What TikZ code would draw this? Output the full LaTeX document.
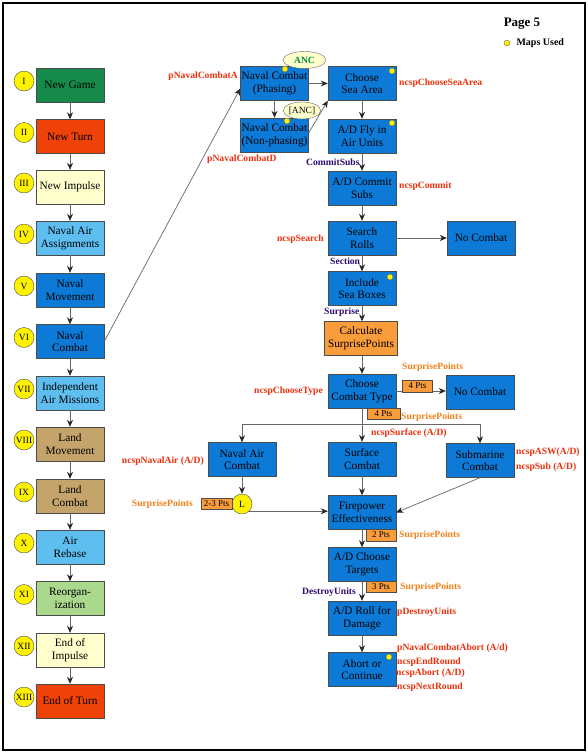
\documentclass[tikz,border=0pt]{standalone}
\usepackage{fontspec}
\setmainfont{Liberation Serif}
\usetikzlibrary{shapes.geometric,arrows.meta}

\definecolor{dgreen}{RGB}{22,138,74}
\definecolor{redor}{RGB}{238,66,8}
\definecolor{lyellow}{RGB}{255,255,206}
\definecolor{lblue}{RGB}{94,190,240}
\definecolor{mblue}{RGB}{12,122,214}
\definecolor{landbrown}{RGB}{196,164,106}
\definecolor{lgreen}{RGB}{170,216,140}
\definecolor{surp}{RGB}{248,156,60}
\definecolor{labred}{RGB}{238,48,12}
\definecolor{laborange}{RGB}{244,128,24}
\definecolor{labpurple}{RGB}{44,12,112}
\definecolor{ancgreen}{RGB}{0,140,60}

\begin{document}
\begin{tikzpicture}[x=1pt, y=-1pt,
    box/.style={draw=black!70, minimum width=68pt, minimum height=34pt, inner sep=1pt, align=center, font=\fontsize{11.3}{12.7}\selectfont},
    num/.style={circle, draw=black!70, fill=yellow, minimum size=20pt, inner sep=0pt, font=\fontsize{9.5}{10}\selectfont},
    pts/.style={draw=black!70, fill=surp, minimum width=30pt, minimum height=11.5pt, inner sep=0pt, font=\fontsize{9}{10}\selectfont},
    lab/.style={font=\fontsize{9.6}{10}\selectfont\bfseries, text=labred, inner sep=0pt},
    splab/.style={lab, text=laborange},
    seclab/.style={lab, text=labpurple},
    map/.style={circle, fill=yellow, draw=black!60, minimum size=6pt, inner sep=0pt},
    anc/.style={ellipse, draw=black!60, fill=lyellow, minimum height=17pt, inner sep=0pt},
    arr/.style={draw=black!60, line width=0.7pt, -{Stealth[length=7pt,width=6pt,color=black!85]}}]
\useasboundingbox (0,0) rectangle (588,753);
\draw[line width=2pt] (3,3) rectangle (585,750);

% 页码
\node[font=\fontsize{13}{14}\selectfont\bfseries] (page) at (522,24) {Page 5};
\node[map] (mapkey) at (507,43) {};
\node[font=\fontsize{10}{11}\selectfont\bfseries, anchor=west] (mapsused) at (513,43) {Maps Used};

% 左列
\node[box, fill=dgreen] (g1) at (70,85) {New Game};
\node[box, fill=redor] (g2) at (70,136.5) {New Turn};
\node[box, fill=lyellow] (g3) at (70,187) {New Impulse};
\node[box, fill=lblue] (g4) at (70,238) {Naval Air\\Assignments};
\node[box, fill=mblue] (g5) at (70,290) {Naval\\Movement};
\node[box, fill=mblue] (g6) at (70,341.5) {Naval\\Combat};
\node[box, fill=lblue] (g7) at (70,393) {Independent\\Air Missions};
\node[box, fill=landbrown] (g8) at (70,444) {Land\\Movement};
\node[box, fill=landbrown] (g9) at (70,496) {Land\\Combat};
\node[box, fill=lblue] (g10) at (70,547) {Air\\Rebase};
\node[box, fill=lgreen] (g11) at (70,598.5) {Reorgan-\\ization};
\node[box, fill=lyellow] (g12) at (70,650) {End of\\Impulse};
\node[box, fill=redor] (g13) at (70,701) {End of Turn};

\node[num] (r1) at (24,81) {I};
\node[num] (r2) at (24,132.5) {II};
\node[num] (r3) at (24,183) {III};
\node[num] (r4) at (24,234) {IV};
\node[num] (r5) at (24,286) {V};
\node[num] (r6) at (24,337.5) {VI};
\node[num] (r7) at (24,389) {VII};
\node[num] (r8) at (24,440) {VIII};
\node[num] (r9) at (24,492) {IX};
\node[num] (r10) at (24,543) {X};
\node[num] (r11) at (24,594.5) {XI};
\node[num] (r12) at (24,646) {XII};
\node[num] (r13) at (24,697) {XIII};

\draw[arr] (g1) -- (g2);
\draw[arr] (g2) -- (g3);
\draw[arr] (g3) -- (g4);
\draw[arr] (g4) -- (g5);
\draw[arr] (g5) -- (g6);
\draw[arr] (g6) -- (g7);
\draw[arr] (g7) -- (g8);
\draw[arr] (g8) -- (g9);
\draw[arr] (g9) -- (g10);
\draw[arr] (g10) -- (g11);
\draw[arr] (g11) -- (g12);
\draw[arr] (g12) -- (g13);

% 海战步骤
\node[box, fill=mblue] (ncA) at (274.5,83.5) {Naval Combat\\(Phasing)};
\node[box, fill=mblue] (ncD) at (274.5,135) {Naval Combat\\(Non-phasing)};
\node[anc, minimum width=43pt, font=\fontsize{9.5}{10}\selectfont\bfseries, text=ancgreen] (anc1) at (304.5,60) {ANC};
\node[anc, minimum width=36pt, font=\fontsize{9.5}{10}\selectfont] (anc2) at (302,110.5) {[ANC]};
\node[box, fill=mblue] (sea) at (362,83.5) {Choose\\Sea Area};
\node[box, fill=mblue] (fly) at (362,136) {A/D Fly in\\Air Units};
\node[box, fill=mblue] (commit) at (362,188) {A/D Commit\\Subs};
\node[box, fill=mblue] (search) at (362,238) {Search\\Rolls};
\node[box, fill=mblue] (nocomb1) at (481,238) {No Combat};
\node[box, fill=mblue] (incl) at (362,288.5) {Include\\Sea Boxes};
\node[box, fill=surp, minimum width=73pt] (calc) at (361,338.5) {Calculate\\SurprisePoints};
\node[box, fill=mblue] (ctype) at (362,391) {Choose\\Combat Type};
\node[box, fill=mblue] (nocomb2) at (480,392) {No Combat};
\node[box, fill=mblue] (navair) at (242,459.5) {Naval Air\\Combat};
\node[box, fill=mblue] (surf) at (362,459) {Surface\\Combat};
\node[box, fill=mblue] (sub) at (480,460.5) {Submarine\\Combat};
\node[num] (L) at (242,504) {L};
\node[box, fill=mblue] (fire) at (362,512.5) {Firepower\\Effectiveness};
\node[box, fill=mblue] (target) at (362,564.5) {A/D Choose\\Targets};
\node[box, fill=mblue] (roll) at (362,618) {A/D Roll for\\Damage};
\node[box, fill=mblue] (abort) at (362,669.5) {Abort or\\Continue};

% 地图标记
\node[map] (m1) at (285,69) {};
\node[map] (m2) at (287,121) {};
\node[map] (m3) at (392,71) {};
\node[map] (m4) at (392,123) {};
\node[map] (m5) at (390,277) {};
\node[map] (m6) at (389,657) {};

% 连线
\draw[arr] (g6.east) -- ([yshift=-5pt]ncA.west);
\draw[arr] (ncA) -- (sea);
\draw[arr] (ncA) -- (ncD);
\draw[arr] ([yshift=-15pt]ncD.north east) -- (sea.south west);
\draw[arr] (sea) -- (fly);
\draw[arr] (fly) -- (commit);
\draw[arr] (commit) -- (search);
\draw[arr] (search) -- (nocomb1);
\draw[arr] (search) -- (incl);
\draw[arr] (incl) -- (ctype |- calc.north);
\draw[arr] (calc.south -| ctype) -- (ctype);
\draw[arr] (ctype.east) -- (ctype.east -| nocomb2.west);
\coordinate (branch) at (362,424);
\draw[arr] (ctype) -- (surf);
\draw[arr] (branch) -| (navair.north);
\draw[arr] (branch) -| (sub.north);
\draw[arr] (navair) -- (L);
\draw[arr] (L.south east) -- (L.south east -| fire.west);
\draw[arr] (surf) -- (fire);
\draw[arr] (sub.south) -- (fire.east);
\draw[arr] (fire) -- (target);
\draw[arr] (target) -- (roll);
\draw[arr] (roll) -- (abort);

% 点数
\node[pts] (p4a) at (417.5,386) {4 Pts};
\node[pts, minimum width=33pt] (p4b) at (383.5,413.5) {4 Pts};
\node[pts, minimum width=31pt] (p23) at (216.5,503.5) {2-3 Pts};
\node[pts] (p2) at (381,535) {2 Pts};
\node[pts] (p3) at (381,586.5) {3 Pts};

% 标签
\node[lab, anchor=east] (lA) at (238,76) {pNavalCombatA};
\node[lab, anchor=west] (lD) at (207,159) {pNavalCombatD};
\node[lab, anchor=west] (lsea) at (399,83) {ncspChooseSeaArea};
\node[seclab, anchor=west] (lsubs) at (306,162) {CommitSubs};
\node[lab, anchor=west] (lcommit) at (399,186) {ncspCommit};
\node[lab, anchor=east] (lsearch) at (324,239) {ncspSearch};
\node[seclab, anchor=west] (lsection) at (330,261) {Section};
\node[seclab, anchor=west] (lsurprise) at (324,312) {Surprise};
\node[splab, anchor=west] (sp1) at (402,367) {SurprisePoints};
\node[lab, anchor=east] (ltype) at (323,391) {ncspChooseType};
\node[splab, anchor=west] (sp2) at (401,417) {SurprisePoints};
\node[lab, anchor=west] (lsurf) at (371,433) {ncspSurface (A/D)};
\node[lab, anchor=east] (lnavair) at (204,461) {ncspNavalAir (A/D)};
\node[lab, anchor=west] (lasw) at (516,452) {ncspASW(A/D)};
\node[lab, anchor=west] (lsub) at (516,467) {ncspSub (A/D)};
\node[splab, anchor=east] (sp3) at (193,504) {SurprisePoints};
\node[splab, anchor=west] (sp4) at (399,535) {SurprisePoints};
\node[splab, anchor=west] (sp5) at (400,587) {SurprisePoints};
\node[seclab, anchor=west] (ldestroy) at (302,592) {DestroyUnits};
\node[lab, anchor=west] (lpdestroy) at (397,612) {pDestroyUnits};
\node[lab, anchor=west] (labort1) at (397,648) {pNavalCombatAbort (A/d)};
\node[lab, anchor=west] (lend) at (397,662) {ncspEndRound};
\node[lab, anchor=west] (labort2) at (396,673) {ncspAbort (A/D)};
\node[lab, anchor=west] (lnext) at (397,687) {ncspNextRound};
\end{tikzpicture}
\end{document}
